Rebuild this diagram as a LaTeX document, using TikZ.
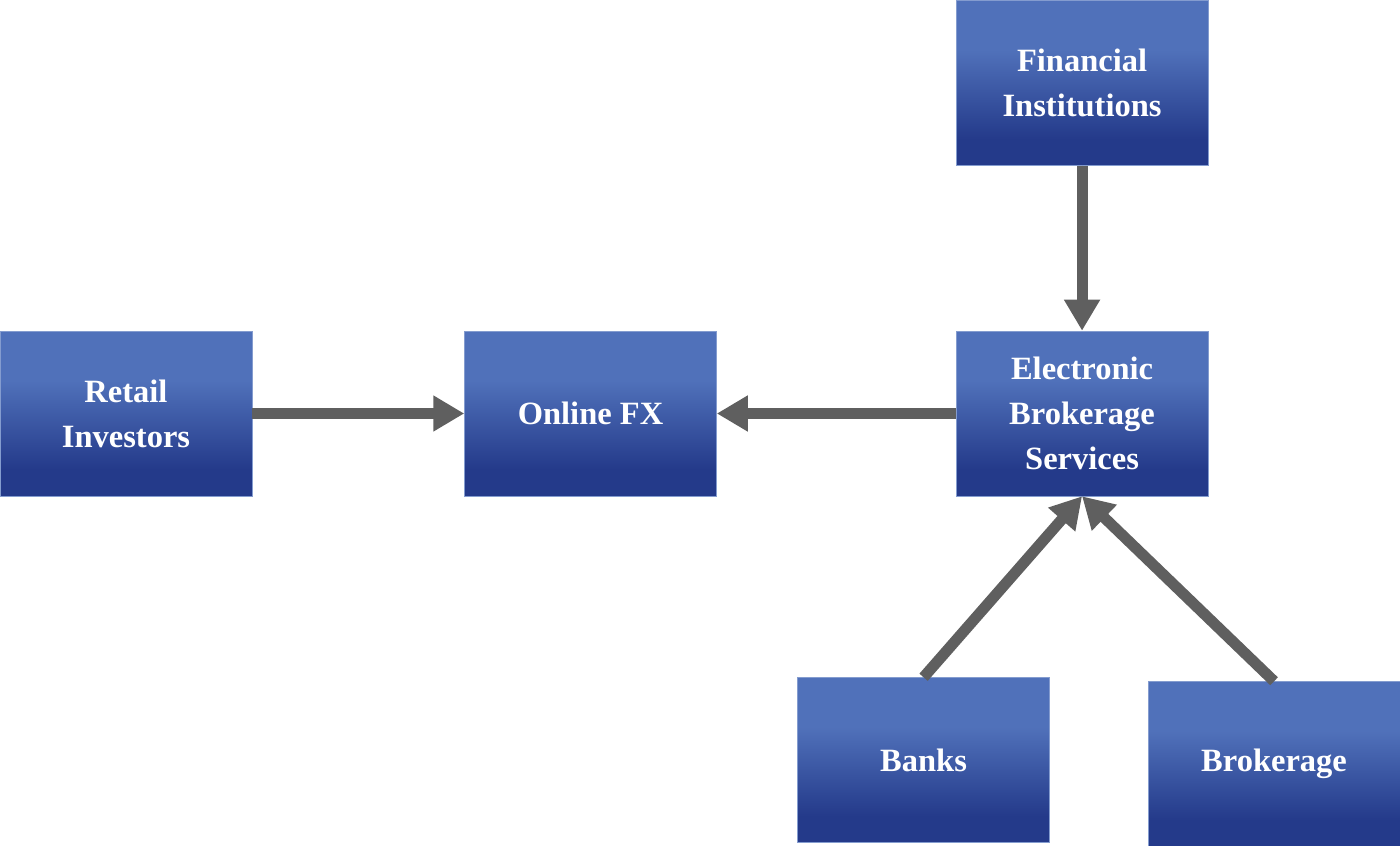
\documentclass[tikz,border=0pt]{standalone}
\usepackage{fontspec}
\setmainfont{Liberation Serif}
\usepackage{tikz}
\usetikzlibrary{positioning}
\usetikzlibrary{arrows.meta}

\definecolor{boxtop}{RGB}{80,113,186}
\definecolor{boxbot}{RGB}{36,58,138}
\definecolor{flowgray}{RGB}{95,95,95}

% light top, dark bottom, box spans 25bp..75bp
\pgfdeclareverticalshading{fxshade}{100bp}{color(0bp)=(boxbot); color(33bp)=(boxbot);
	color(60bp)=(boxtop); color(100bp)=(boxtop)}

\tikzset{
	fxbox/.style={rectangle,minimum width=5.04cm,minimum height=3.3cm,inner sep=0pt,
		shading=fxshade,draw=boxtop!70!white,line width=0.3pt,
		text=white,align=center,font=\fontsize{18.5}{25.5}\selectfont\bfseries},
	flow/.style={draw=flowgray,line width=0.22cm,
		-{Triangle[width=0.68cm,length=0.62cm]},fill=flowgray}
}

\begin{document}
\begin{tikzpicture}
		\useasboundingbox (0,0) rectangle (28,-16.92);
		\node (rtl)  [fxbox] at (2.52,-8.27)                   {Retail\\Investors};
		\node (ofx)  [fxbox,right=4.24cm of rtl]               {Online FX};
		\node (ebs)  [fxbox,right=4.78cm of ofx]               {Electronic\\Brokerage\\Services};
		\node (finst)[fxbox,above=3.3cm of ebs]                {Financial\\Institutions};
		\node (bank) [fxbox,below=3.62cm of ebs,xshift=-3.17cm] {Banks};
		\node (brk)  [fxbox,below=3.7cm of ebs,xshift=3.84cm]   {Brokerage};
		\draw (rtl.east) edge[flow] (ofx.west);
		\draw (ebs.west) edge[flow] (ofx.east);
		\draw (finst.south) edge[flow] (ebs.north);
		\draw (bank.north) edge[flow] (ebs.south);
		\draw (brk.north) edge[flow] (ebs.south);
	\end{tikzpicture}
\end{document}
